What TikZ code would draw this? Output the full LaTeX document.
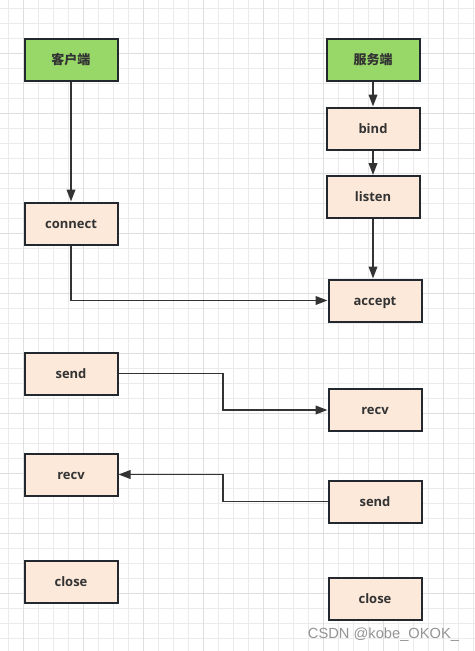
\documentclass[tikz,border=0pt]{standalone}
\usepackage{fontspec}
\setmainfont{Open Sans}
\newfontfamily\cjk{Noto Sans CJK SC}
\newfontfamily\wmfont{Liberation Sans}
\usetikzlibrary{arrows.meta}
\definecolor{startfill}{RGB}{151,216,105}
\definecolor{callfill}{RGB}{252,233,218}
\definecolor{edge}{RGB}{35,39,46}
\definecolor{ink}{RGB}{51,51,51}
\begin{document}
\begin{tikzpicture}[x=0.75pt, y=-0.75pt,
    callbox/.style={draw=edge, line width=1.5pt, fill=callfill, minimum width=69.75pt,
      minimum height=31.5pt, inner sep=0pt, text height=0.73em, text depth=0pt,
      text=ink, font=\fontsize{9.75}{12}\selectfont\bfseries},
    startbox/.style={callbox, fill=startfill, font=\cjk\fontsize{9.75}{12}\selectfont\bfseries},
    flow/.style={draw=ink, line width=1.25pt, -{Triangle[length=9pt,width=6.5pt]}}]
  \useasboundingbox (0,0) rectangle (475,651);
  % Grid
  \fill[white] (0,0) rectangle (475,651);
  \foreach \x in {8,23,...,473} \draw[black!8, line width=0.75pt] (\x,0) -- (\x,651);
  \foreach \y in {8,23,...,650} \draw[black!8, line width=0.75pt] (0,\y) -- (475,\y);
  \foreach \x in {23,83,...,473} \draw[black!13, line width=0.75pt] (\x,0) -- (\x,651);
  \foreach \y in {53,113,...,650} \draw[black!13, line width=0.75pt] (0,\y) -- (475,\y);
  % Client side
  \node[startbox] (client) at (71,59.5) {客户端};
  \node[callbox] (connect) at (71,223.5) {connect};
  \node[callbox] (csend) at (71,373.5) {send};
  \node[callbox] (crecv) at (71,474.5) {recv};
  \node[callbox] (cclose) at (71,581.5) {close};
  % Server side
  \node[startbox] (server) at (373,59.5) {服务端};
  \node[callbox] (bind) at (373,128.5) {bind};
  \node[callbox] (listen) at (373,197) {listen};
  \node[callbox] (accept) at (375,300.5) {accept};
  \node[callbox] (srecv) at (375,410) {recv};
  \node[callbox] (ssend) at (375,501.5) {send};
  \node[callbox] (sclose) at (375,598.5) {close};
  % Connectors
  \coordinate (turn) at (223,0);
  \draw[flow] (client) -- (connect);
  \draw[flow] (server) -- (bind);
  \draw[flow] (bind) -- (listen);
  \draw[flow] (listen) -- (listen |- accept.north);
  \draw[flow] (connect) |- (accept);
  \draw[flow] (csend) -- (csend -| turn) |- (srecv);
  \draw[flow] (ssend) -- (ssend -| turn) |- (crecv);
  % Watermark
  \node[text=black!42, font=\wmfont\fontsize{11}{13}\selectfont] (wm) at (383.5,634.5) {CSDN @kobe\_OKOK\_};
\end{tikzpicture}
\end{document}
